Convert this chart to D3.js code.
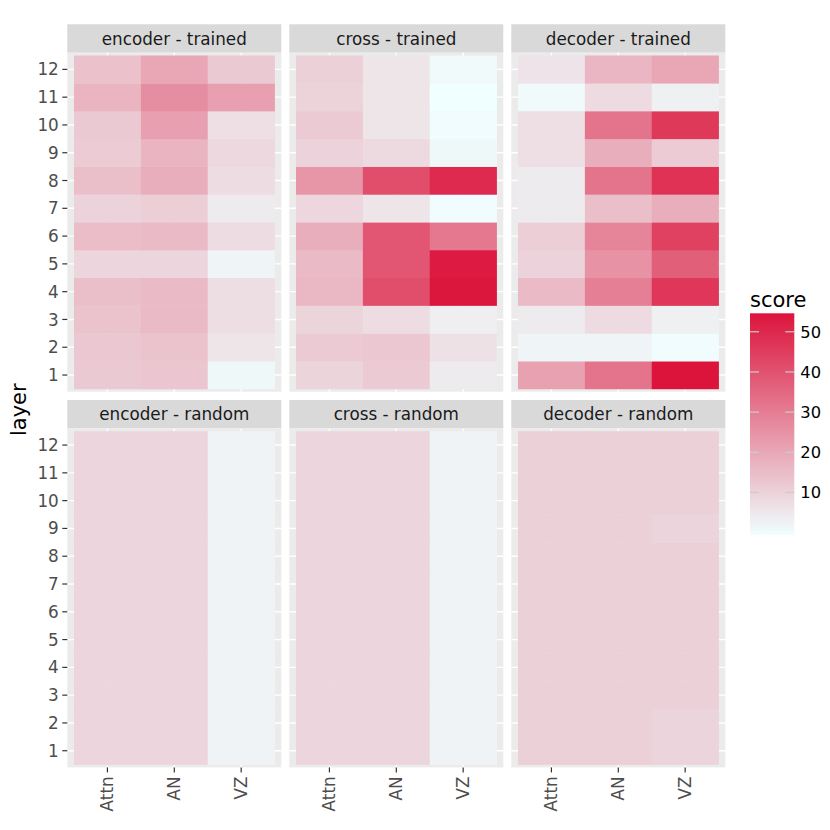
<!DOCTYPE html>
<html lang="en">
<head>
<meta charset="UTF-8">
<title>layer scores</title>
<script src="https://cdn.jsdelivr.net/npm/d3@7"></script>
<style>
    body { margin: 0; background: #fff; }
    svg text { font-family: "DejaVu Sans", sans-serif; }
</style>
</head>
<body>
<script>
    // data: each array is layer 1..12, values for [Attn, AN, VZ]
    const metrics = ["Attn", "AN", "VZ"];
    const layers = [1, 2, 3, 4, 5, 6, 7, 8, 9, 10, 11, 12];
    const facetNames = ["encoder - trained", "cross - trained", "decoder - trained",
                        "encoder - random", "cross - random", "decoder - random"];

    const encoderTrained = [
        [12, 13, 1], [12.5, 13.5, 5.5], [13.5, 15.5, 7.2], [14.5, 15.5, 7.2],
        [9.3, 9.3, 2], [15, 15.5, 7.5], [10, 11, 4], [14.5, 18.5, 7.5],
        [11.5, 17, 8.5], [12, 22, 7], [17, 26, 22], [14, 20, 12]
    ];
    const crossTrained = [
        [9.5, 11.8, 4], [11.8, 12.5, 6.5], [9.5, 7.5, 3.5], [16, 41, 54],
        [15.5, 39, 53], [18.5, 39, 31], [9, 5.5, 0], [24, 41, 49.5],
        [10, 8.3, 1], [11.8, 5.5, 0], [9.8, 5.5, -0.6], [10.5, 5.5, 0.5]
    ];
    const decoderTrained = [
        [21.5, 32, 54.5], [2, 2, 0], [4, 7.8, 3], [15.5, 29.5, 46.5],
        [10, 25, 37], [11, 28, 44], [4, 14.5, 18.5], [4, 32, 47.5],
        [7, 18.5, 11.5], [7, 32, 46], [0.5, 7.8, 3], [6, 16.5, 20]
    ];
    const encoderRandom = [
        [9.2, 9.2, 2.2], [9.2, 9.2, 2.2], [9.2, 9.2, 2.2], [9.2, 9.2, 2.2],
        [9.2, 9.2, 2.2], [9.2, 9.2, 2.2], [9.2, 9.2, 2.2], [9.2, 9.2, 2.2],
        [9.2, 9.2, 2.2], [9.2, 9.2, 2.2], [9.2, 9.2, 2.2], [9.2, 9.2, 2.2]
    ];
    const crossRandom = [
        [9.2, 9.2, 2.2], [9.2, 9.2, 2.2], [9.2, 9.2, 2.2], [9.2, 9.2, 2.2],
        [9.2, 9.2, 2.2], [9.2, 9.2, 2.2], [9.2, 9.2, 2.2], [9.2, 9.2, 2.2],
        [9.2, 9.2, 2.2], [9.2, 9.2, 2.2], [9.2, 9.2, 2.2], [9.2, 9.2, 2.2]
    ];
    const decoderRandom = [
        [10.4, 10.4, 9.4], [10.4, 10.4, 9.4], [10.4, 10.4, 10.4], [10.4, 10.4, 10.4],
        [10.4, 10.4, 10.4], [10.4, 10.4, 10.4], [10.4, 10.4, 10.4], [10.4, 10.4, 10.4],
        [10.4, 10.4, 9.4], [10.4, 10.4, 10.4], [10.4, 10.4, 10.4], [10.4, 10.4, 10.4]
    ];
    const facetValues = [encoderTrained, crossTrained, decoderTrained,
                         encoderRandom, crossRandom, decoderRandom];
    const legendTicks = [10, 20, 30, 40, 50];
    const scoreDomain = [-0.6, 54.6];

    const W = 830, H = 830;
    const svg = d3.select("body").append("svg")
            .attr("width", W).attr("height", H);

    const color = d3.scaleLinear()
            .domain(scoreDomain)
            .range(["#F0FFFF", "#DC143C"])
            .interpolate(d3.interpolateRgb)
            .clamp(true);

    const colX = [67.3, 289.3, 511.3];
    const rowY = [24.3, 400];
    const panelW = 214, panelH = 339, stripH = 28.4;

    const x = d3.scalePoint().domain(metrics).range([0, panelW]).padding(0.6);
    const y = d3.scalePoint().domain(layers.slice().reverse()).range([0, panelH]).padding(0.6);
    const xStep = x.step(), yStep = y.step();

    facetNames.forEach((name, i) => {
        const col = i % 3, row = Math.floor(i / 3);
        const g = svg.append("g")
                .attr("transform", `translate(${colX[col]},${rowY[row]})`);

        // strip
        g.append("rect").attr("width", panelW).attr("height", stripH).attr("fill", "#D9D9D9");
        g.append("text")
                .attr("x", panelW / 2).attr("y", stripH / 2)
                .attr("dy", "0.36em")
                .attr("text-anchor", "middle")
                .attr("font-size", 16.8)
                .attr("fill", "#1A1A1A")
                .text(name);

        const p = g.append("g").attr("transform", `translate(0,${stripH})`);
        p.append("rect").attr("width", panelW).attr("height", panelH).attr("fill", "#EBEBEB");

        p.selectAll(".gx").data(metrics).join("line")
                .attr("x1", d => x(d)).attr("x2", d => x(d))
                .attr("y1", 0).attr("y2", panelH)
                .attr("stroke", "#fff").attr("stroke-width", 1.4);
        p.selectAll(".gy").data(layers).join("line")
                .attr("y1", d => y(d)).attr("y2", d => y(d))
                .attr("x1", 0).attr("x2", panelW)
                .attr("stroke", "#fff").attr("stroke-width", 1.4);

        const cells = [];
        facetValues[i].forEach((vals, li) => {
            vals.forEach((v, mi) => cells.push({layer: layers[li], metric: metrics[mi], score: v}));
        });
        p.selectAll("rect.tile").data(cells).join("rect")
                .attr("class", "tile")
                .attr("x", d => x(d.metric) - xStep / 2)
                .attr("y", d => y(d.layer) - yStep / 2)
                .attr("width", xStep + 0.3)
                .attr("height", yStep + 0.3)
                .attr("fill", d => color(d.score));

        // y axis on first column
        if (col === 0) {
            const ya = p.append("g").selectAll("g").data(layers).join("g")
                    .attr("transform", d => `translate(0,${y(d)})`);
            ya.append("line").attr("x1", -5).attr("x2", 0)
                    .attr("stroke", "#333").attr("stroke-width", 1.2);
            ya.append("text").attr("x", -8.5).attr("dy", "0.36em")
                    .attr("text-anchor", "end")
                    .attr("font-size", 16.8)
                    .attr("fill", "#4D4D4D")
                    .text(d => d);
        }
        // x axis on bottom row
        if (row === 1) {
            const xa = p.append("g").selectAll("g").data(metrics).join("g")
                    .attr("transform", d => `translate(${x(d)},${panelH})`);
            xa.append("line").attr("y1", 0).attr("y2", 5)
                    .attr("stroke", "#333").attr("stroke-width", 1.2);
            xa.append("text")
                    .attr("transform", "translate(0,9) rotate(-90)")
                    .attr("dy", "0.36em")
                    .attr("text-anchor", "end")
                    .attr("font-size", 16.8)
                    .attr("fill", "#4D4D4D")
                    .text(d => d);
        }
    });

    // y title
    svg.append("text")
            .attr("transform", `translate(18,${(52.7 + 766.7) / 2}) rotate(-90)`)
            .attr("dy", "0.36em")
            .attr("text-anchor", "middle")
            .attr("font-size", 21)
            .attr("fill", "#000")
            .text("layer");

    // legend
    const lx = 750, ly = 313.3, lw = 44.3, lh = 221.7;
    const ls = d3.scaleLinear().domain(scoreDomain).range([ly + lh, ly]);
    const defs = svg.append("defs");
    const grad = defs.append("linearGradient").attr("id", "scoreGrad")
            .attr("x1", 0).attr("x2", 0).attr("y1", 1).attr("y2", 0);
    d3.range(0, 1.0001, 0.05).forEach(t => {
        grad.append("stop").attr("offset", t)
                .attr("stop-color", color(scoreDomain[0] + t * (scoreDomain[1] - scoreDomain[0])));
    });
    svg.append("text").attr("x", lx).attr("y", 307)
            .attr("font-size", 21).attr("fill", "#000").text("score");
    svg.append("rect").attr("x", lx).attr("y", ly).attr("width", lw).attr("height", lh)
            .attr("fill", "url(#scoreGrad)");
    const lt = svg.append("g").selectAll("g").data(legendTicks).join("g")
            .attr("transform", d => `translate(0,${ls(d)})`);
    lt.append("line").attr("x1", lx).attr("x2", lx + 9)
            .attr("stroke", "#CCCCCC").attr("stroke-width", 1.2);
    lt.append("line").attr("x1", lx + lw - 9).attr("x2", lx + lw)
            .attr("stroke", "#CCCCCC").attr("stroke-width", 1.2);
    lt.append("text").attr("x", lx + lw + 6).attr("dy", "0.36em")
            .attr("font-size", 16.3).attr("fill", "#000")
            .text(d => d);
</script>
</body>
</html>
